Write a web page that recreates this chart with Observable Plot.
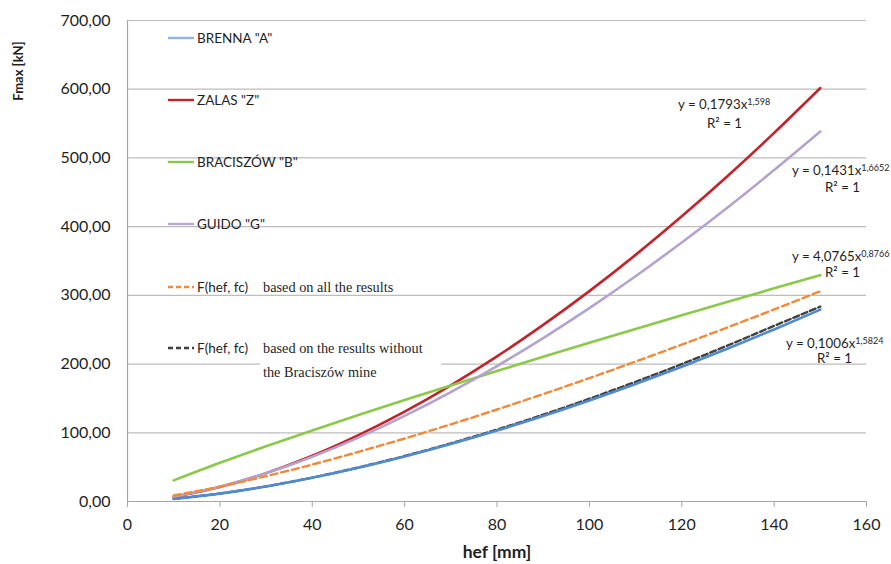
<!DOCTYPE html>
<html>
<head>
<meta charset="utf-8">
<script src="https://cdn.jsdelivr.net/npm/d3@7"></script>
<script src="https://cdn.jsdelivr.net/npm/@observablehq/plot@0.6"></script>
<style>
  html, body { margin: 0; padding: 0; background: #fff; overflow: hidden; }
  #chart { position: relative; width: 891px; height: 564px; }
</style>
</head>
<body>
<div id="chart"></div>
<script>
// ---- Data ----
const hef = [10, 20, 30, 40, 50, 60, 70, 80, 90, 100, 110, 120, 130, 140, 150];
const brenna    = [3.85, 11.5, 21.9, 34.5, 49.1, 65.5, 83.6, 103.3, 124.4, 147.0, 171.0, 196.2, 222.7, 250.4, 279.3];
const zalas     = [6.6, 21.0, 41.3, 66.6, 96.6, 130.8, 169.1, 211.2, 257.0, 306.2, 358.9, 415.0, 474.1, 536.4, 601.7];
const braciszow = [30.7, 56.3, 80.4, 103.4, 125.8, 147.6, 168.9, 189.9, 210.6, 231.0, 251.1, 271.0, 290.7, 310.2, 329.5];
const guido     = [7.1, 21.5, 41.1, 65.1, 93.0, 124.5, 159.2, 197.1, 237.9, 281.5, 327.9, 376.9, 428.3, 482.3, 538.4];
const fAll      = [8.7, 21.6, 36.9, 53.8, 72.2, 91.7, 112.3, 133.9, 156.3, 179.6, 203.6, 228.3, 253.6, 279.5, 306.0];
const fNoB      = [3.9, 11.6, 22.0, 34.8, 49.6, 66.2, 84.6, 104.7, 126.3, 149.6, 174.2, 200.0, 227.2, 255.6, 283.6];

const xTicks = [0, 20, 40, 60, 80, 100, 120, 140, 160];
const yTicks = [0, 100, 200, 300, 400, 500, 600, 700];

const seriesNames = ['BRENNA "A"', 'ZALAS "Z"', 'BRACISZÓW "B"', 'GUIDO "G"', 'F(hef, fc)', 'F(hef, fc)'];
const seriesNotes = ['', '', '', '', 'based on all the results', 'based on the results without'];
const noteLine2 = 'the Braciszów mine';
const equations = [
  {base: 'y = 0,1793x', exp: '1,598'},
  {base: 'y = 0,1431x', exp: '1,6652'},
  {base: 'y = 4,0765x', exp: '0,8766'},
  {base: 'y = 0,1006x', exp: '1,5824'}
];
const r2Label = 'R² = 1';
const xLabel = 'hef [mm]';
const yLabel = 'Fmax [kN]';

// ---- Styles ----
const colors = {
  brenna: '#4f8bd0', zalas: '#c3232b', braciszow: '#8cc84b', guido: '#b4a3cc',
  fAll: '#ef8a3a', fNoB: '#404040'
};
const legendColors = ['#93b4dc', '#c3232b', '#8cc84b', '#b9a8d2', '#ef8a3a', '#404040'];
const legendDash = [null, null, null, null, '5,3', '5,3'];

const toRows = (vals) => hef.map((x, i) => ({x, y: vals[i]}));
const fmt = d => d.toFixed(2).replace('.', ',');

const plot = Plot.plot({
  width: 891,
  height: 564,
  marginLeft: 127,
  marginRight: 25,
  marginTop: 20,
  marginBottom: 63,
  style: {fontFamily: 'Lato, "Open Sans", sans-serif', background: '#fff', overflow: 'visible'},
  x: {domain: [0, 160], ticks: xTicks},
  y: {domain: [0, 700], ticks: yTicks},
  marks: [
    Plot.ruleY(yTicks.filter(d => d > 0), {stroke: '#bdbdbd', strokeWidth: 1.2}),
    Plot.ruleX([0], {stroke: '#a6a6a6', strokeWidth: 1.2}),
    Plot.ruleY([0], {stroke: '#a6a6a6', strokeWidth: 1.2}),
    Plot.axisX({ticks: xTicks, tickSize: 6, tickPadding: 11, fontSize: 16, stroke: '#a6a6a6', fill: '#1f1f1f', label: null, tickFormat: d => String(d)}),
    Plot.axisY({ticks: yTicks, tickSize: 0, tickPadding: 17, fontSize: 16, fill: '#1f1f1f', tickFormat: fmt, label: null}),
    Plot.line(toRows(fNoB),      {x: 'x', y: 'y', stroke: colors.fNoB, strokeWidth: 2.4, strokeDasharray: '6,3', curve: 'monotone-x'}),
    Plot.line(toRows(brenna),    {x: 'x', y: 'y', stroke: colors.brenna, strokeWidth: 2.6, curve: 'monotone-x'}),
    Plot.line(toRows(zalas),     {x: 'x', y: 'y', stroke: colors.zalas, strokeWidth: 2.6, curve: 'monotone-x'}),
    Plot.line(toRows(braciszow), {x: 'x', y: 'y', stroke: colors.braciszow, strokeWidth: 2.6, curve: 'monotone-x'}),
    Plot.line(toRows(guido),     {x: 'x', y: 'y', stroke: colors.guido, strokeWidth: 2.6, curve: 'monotone-x'}),
    Plot.line(toRows(fAll),      {x: 'x', y: 'y', stroke: colors.fAll, strokeWidth: 2.4, strokeDasharray: '7,4', curve: 'monotone-x'})
  ]
});

const container = document.getElementById('chart');
container.appendChild(plot);

// ---- Overlay: legend, equations, axis titles ----
const ov = d3.select(container).append('svg')
  .attr('width', 891).attr('height', 564)
  .style('position', 'absolute').style('left', '0px').style('top', '0px')
  .style('overflow', 'visible').style('pointer-events', 'none');

const sans = 'Lato, "Open Sans", sans-serif';
const serif = '"Liberation Serif", "Times New Roman", serif';

// white box behind second note line
ov.append('rect').attr('x', 260).attr('y', 355).attr('width', 181).attr('height', 27).attr('fill', '#fff');

const legendY = [38, 100, 162, 224, 287, 348];
seriesNames.forEach((name, i) => {
  const y = legendY[i];
  const ln = ov.append('line').attr('x1', 168).attr('x2', 194).attr('y1', y).attr('y2', y)
    .attr('stroke', legendColors[i]).attr('stroke-width', 2.4);
  if (legendDash[i]) ln.attr('stroke-dasharray', legendDash[i]);
  ov.append('text').attr('x', 197).attr('y', y).attr('dy', '0.36em')
    .attr('font-family', sans).attr('font-size', 13.5).attr('fill', '#1f1f1f').text(name);
  if (seriesNotes[i]) {
    ov.append('text').attr('x', 263).attr('y', y).attr('dy', '0.36em')
      .attr('font-family', serif).attr('font-size', 14.3).attr('fill', '#1f1f1f').text(seriesNotes[i]);
  }
});
ov.append('text').attr('x', 263).attr('y', 372).attr('dy', '0.36em')
  .attr('font-family', serif).attr('font-size', 14.3).attr('fill', '#1f1f1f').text(noteLine2);

const eqPos = [
  {x: 678, y: 104, rx: 707, ry: 123},
  {x: 792, y: 170, rx: 825, ry: 187},
  {x: 792, y: 256, rx: 825, ry: 272},
  {x: 786, y: 343, rx: 817, ry: 358}
];
equations.forEach((eq, i) => {
  const p = eqPos[i];
  const t = ov.append('text').attr('x', p.x).attr('y', p.y).attr('dy', '0.36em')
    .attr('font-family', sans).attr('font-size', 13.3).attr('fill', '#1f1f1f');
  t.append('tspan').text(eq.base);
  t.append('tspan').attr('dy', '-0.45em').attr('font-size', 9).text(eq.exp);
  ov.append('text').attr('x', p.rx).attr('y', p.ry).attr('dy', '0.36em')
    .attr('font-family', sans).attr('font-size', 13.3).attr('fill', '#1f1f1f').text(r2Label);
});

ov.append('text').attr('x', 497).attr('y', 552).attr('dy', '0.36em').attr('text-anchor', 'middle')
  .attr('font-family', sans).attr('font-size', 17.5).attr('font-weight', 'bold').attr('fill', '#1f1f1f').text(xLabel);

ov.append('text').attr('transform', 'translate(18,71) rotate(-90)').attr('dy', '0.36em').attr('text-anchor', 'middle')
  .attr('font-family', sans).attr('font-size', 13).attr('font-weight', 'bold').attr('fill', '#1f1f1f').text(yLabel);
</script>
</body>
</html>
